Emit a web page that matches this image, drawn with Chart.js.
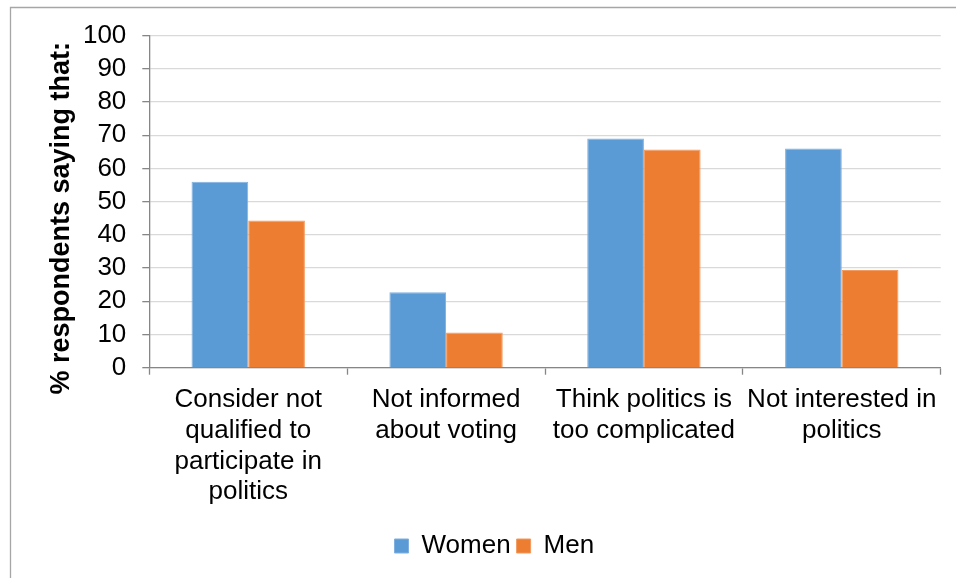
<!DOCTYPE html>
<html>
<head>
<meta charset="utf-8">
<script src="https://cdn.jsdelivr.net/npm/chart.js@4/dist/chart.umd.min.js"></script>
<style>
  html, body { margin: 0; padding: 0; background: #fff; }
  #wrap { position: relative; width: 956px; height: 578px; }
</style>
</head>
<body>
<div id="wrap"><canvas id="c" width="956" height="578"></canvas></div>
<script>
const categories = [
  ["Consider not", "qualified to", "participate in", "politics"],
  ["Not informed", "about voting"],
  ["Think politics is", "too complicated"],
  ["Not interested in", "politics"]
];
const seriesNames = ["Women", "Men"];
const women = [56, 22.7, 69, 66];
const men = [44.3, 10.6, 65.7, 29.4];
const yTicks = { min: 0, max: 100, step: 10 };
const yTitle = "% respondents saying that:";

const FONT = "'Liberation Sans', Arial, sans-serif";
const AXIS = "#868686";
const GRID = "#d9d9d9";

const framePlugin = {
  id: 'frame',
  beforeDraw(chart) {
    const ctx = chart.ctx;
    ctx.save();
    ctx.strokeStyle = '#a6a6a6';
    ctx.lineWidth = 1.3;
    ctx.beginPath();
    ctx.moveTo(10.5, 578);
    ctx.lineTo(10.5, 7.5);
    ctx.lineTo(956, 7.5);
    ctx.stroke();
    ctx.restore();
  }
};

const yTitlePlugin = {
  id: 'ytitle',
  afterDraw(chart) {
    const ctx = chart.ctx;
    const a = chart.chartArea;
    ctx.save();
    ctx.translate(62, a.top + (a.bottom - a.top) * 0.55);
    ctx.rotate(-Math.PI / 2);
    ctx.font = "bold 27px " + FONT;
    ctx.fillStyle = '#000';
    ctx.textAlign = 'center';
    ctx.textBaseline = 'middle';
    ctx.fillText(yTitle, 0, 0);
    ctx.restore();
  }
};

new Chart(document.getElementById('c'), {
  type: 'bar',
  data: {
    labels: categories,
    datasets: [
      { label: seriesNames[0], data: women, backgroundColor: '#5b9bd5', borderColor: '#7fb0df', borderWidth: 1 },
      { label: seriesNames[1], data: men, backgroundColor: '#ed7d31', borderColor: '#f29a5f', borderWidth: 1 }
    ]
  },
  options: {
    responsive: false,
    animation: false,
    devicePixelRatio: 1,
    layout: { padding: { left: 48, right: 15.3, top: 35.7, bottom: 9 } },
    datasets: { bar: { categoryPercentage: 0.573, barPercentage: 1.0 } },
    plugins: {
      tooltip: { enabled: false },
      legend: {
        position: 'bottom',
        labels: {
          boxWidth: 14, boxHeight: 14, padding: 6,
          color: '#000',
          font: { family: FONT, size: 26 }
        }
      }
    },
    scales: {
      x: {
        afterFit(scale) { scale.height = 159.3; },
        grid: { display: true, drawOnChartArea: false, offset: true, tickLength: 7, tickColor: AXIS, tickWidth: 1.3 },
        border: { color: AXIS, width: 1.3 },
        ticks: { color: '#000', padding: 10, maxRotation: 0, autoSkip: false,
                 font: { family: FONT, size: 26, lineHeight: 1.18 } }
      },
      y: {
        min: yTicks.min, max: yTicks.max,
        afterFit(scale) { scale.width = 101.3; },
        grid: { color: GRID, lineWidth: 1.3, tickLength: 7, tickColor: AXIS, tickWidth: 1.3 },
        border: { color: AXIS, width: 1.3 },
        ticks: { stepSize: yTicks.step, autoSkip: false, color: '#000', padding: 16,
                 font: { family: FONT, size: 26 } }
      }
    }
  },
  plugins: [framePlugin, yTitlePlugin]
});
</script>
</body>
</html>
